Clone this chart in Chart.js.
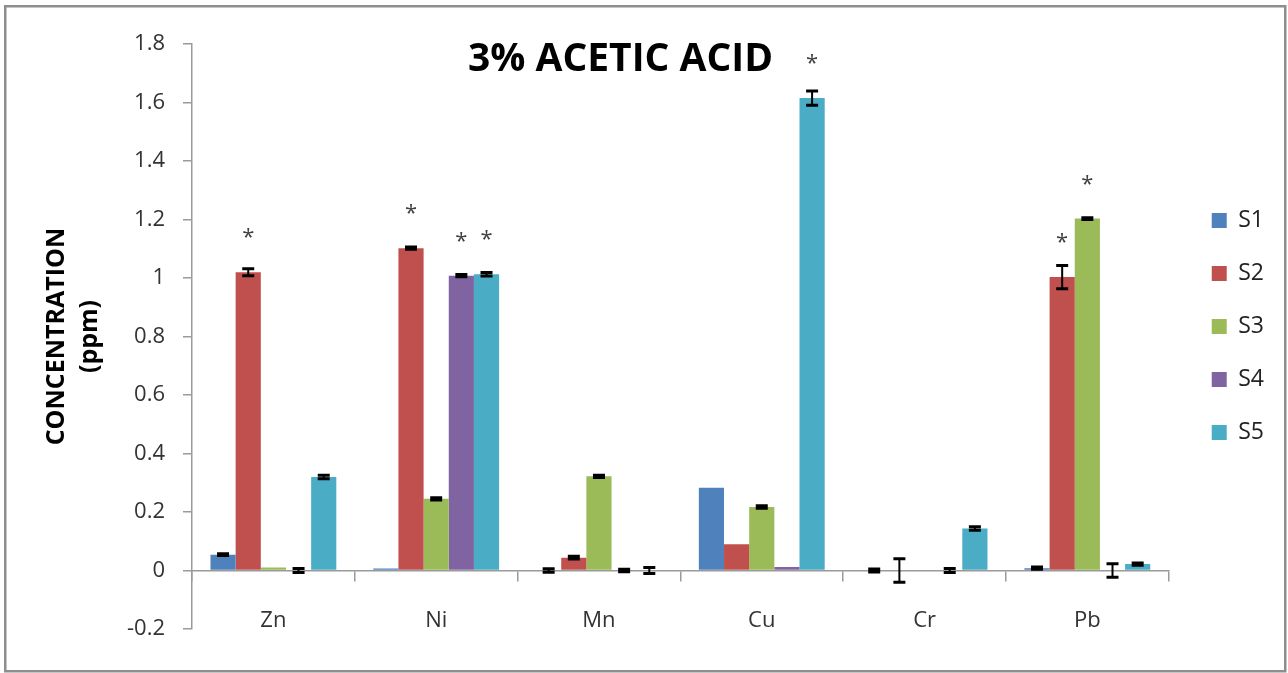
<!DOCTYPE html>
<html>
<head>
<meta charset="utf-8">
<title>3% ACETIC ACID</title>
<script src="https://cdn.jsdelivr.net/npm/chart.js@4.4.1/dist/chart.umd.min.js"></script>
<style>
  html, body { margin: 0; padding: 0; background: #ffffff; }
  #wrap { width: 1288px; height: 673px; position: relative; }
</style>
</head>
<body>
<div id="wrap"><canvas id="chart"></canvas></div>
<script>
// Metals measured and the five samples
const metals = ['Zn', 'Ni', 'Mn', 'Cu', 'Cr', 'Pb'];
const sampleNames = ['S1', 'S2', 'S3', 'S4', 'S5'];

// Mean concentration (ppm) per metal, one array per sample
const s1Values = [0.054, 0.007, 0.000, 0.283, 0.000, 0.008];
const s2Values = [1.020, 1.102, 0.044, 0.090, 0.000, 1.003];
const s3Values = [0.010, 0.245, 0.322, 0.217, 0.000, 1.203];
const s4Values = [0.000, 1.008, 0.000, 0.012, 0.000, 0.000];
const s5Values = [0.320, 1.013, 0.000, 1.615, 0.144, 0.022];

// Standard deviation (ppm) per metal
const s1Errors = [0.003, 0.000, 0.006, 0.000, 0.005, 0.004];
const s2Errors = [0.012, 0.004, 0.005, 0.000, 0.040, 0.040];
const s3Errors = [0.000, 0.004, 0.004, 0.004, 0.000, 0.003];
const s4Errors = [0.007, 0.004, 0.004, 0.000, 0.007, 0.023];
const s5Errors = [0.006, 0.006, 0.010, 0.024, 0.006, 0.004];

// Statistically significant results, marked with an asterisk
const s1Marked = [false, false, false, false, false, false];
const s2Marked = [true,  true,  false, false, false, true ];
const s3Marked = [false, false, false, false, false, true ];
const s4Marked = [false, true,  false, false, false, false];
const s5Marked = [false, true,  false, true,  false, false];

// Value axis ticks
const yMin = -0.2;
const yMax = 1.8;
const yStep = 0.2;

const sampleColors = ['#4F81BD', '#C0504D', '#9BBB59', '#8064A2', '#4BACC6'];
const allValues = [s1Values, s2Values, s3Values, s4Values, s5Values];
const allErrors = [s1Errors, s2Errors, s3Errors, s4Errors, s5Errors];
const allMarked = [s1Marked, s2Marked, s3Marked, s4Marked, s5Marked];

const FONT = "'Open Sans', 'DejaVu Sans', sans-serif";
const AXIS_GRAY = '#9a9a9a';

const datasets = sampleNames.map((name, i) => ({
  label: name,
  data: allValues[i],
  errors: allErrors[i],
  marked: allMarked[i],
  backgroundColor: sampleColors[i],
  borderWidth: 0,
  barPercentage: 1.0,
  categoryPercentage: 0.773
}));

// White page and grey outer frame
const framePlugin = {
  id: 'frame',
  beforeDraw(chart) {
    const { ctx, width, height } = chart;
    ctx.save();
    ctx.fillStyle = '#ffffff';
    ctx.fillRect(0, 0, width, height);
    ctx.restore();
  },
  afterDraw(chart) {
    const { ctx } = chart;
    ctx.save();
    ctx.strokeStyle = '#8e8e8e';
    ctx.lineWidth = 2.5;
    ctx.strokeRect(5.25, 6.25, 1280, 665);
    ctx.restore();
  }
};

// Move the legend column next to the plot
const legendPlacePlugin = {
  id: 'legendPlace',
  afterLayout(chart) {
    const lg = chart.legend;
    if (!lg) return;
    lg.left += 13; lg.right += 13;
    lg.top -= 10; lg.bottom -= 10;
  }
};

// Error bars (mean ± SD)
const errorBarPlugin = {
  id: 'errorBars',
  afterDatasetsDraw(chart) {
    const { ctx } = chart;
    const y = chart.scales.y;
    ctx.save();
    ctx.strokeStyle = '#000000';
    chart.data.datasets.forEach((ds, i) => {
      const meta = chart.getDatasetMeta(i);
      meta.data.forEach((bar, j) => {
        const err = ds.errors[j];
        if (!err) return;
        const v = ds.data[j];
        const yHi = y.getPixelForValue(v + err);
        const yLo = y.getPixelForValue(v - err);
        const half = 6;
        ctx.lineWidth = 2;
        ctx.beginPath();
        ctx.moveTo(bar.x, yHi);
        ctx.lineTo(bar.x, yLo);
        ctx.stroke();
        ctx.lineWidth = 3;
        ctx.beginPath();
        ctx.moveTo(bar.x - half, yHi);
        ctx.lineTo(bar.x + half, yHi);
        ctx.moveTo(bar.x - half, yLo);
        ctx.lineTo(bar.x + half, yLo);
        ctx.stroke();
      });
    });
    ctx.restore();
  }
};

// Asterisks above significant bars
const markPlugin = {
  id: 'marks',
  afterDatasetsDraw(chart) {
    const { ctx } = chart;
    const y = chart.scales.y;
    ctx.save();
    ctx.fillStyle = '#404040';
    ctx.font = '22px ' + FONT;
    ctx.textAlign = 'center';
    ctx.textBaseline = 'middle';
    chart.data.datasets.forEach((ds, i) => {
      const meta = chart.getDatasetMeta(i);
      meta.data.forEach((bar, j) => {
        if (!ds.marked[j]) return;
        const top = y.getPixelForValue(ds.data[j]);
        ctx.fillText('*', bar.x, top - 34);
      });
    });
    ctx.restore();
  }
};

// Chart heading inside the plot
const headingPlugin = {
  id: 'heading',
  afterDraw(chart) {
    const { ctx } = chart;
    ctx.save();
    ctx.fillStyle = '#000000';
    ctx.font = 'bold 39px ' + FONT;
    ctx.textAlign = 'center';
    ctx.textBaseline = 'alphabetic';
    ctx.fillText('3% ACETIC ACID', 620.5, 71);
    ctx.restore();
  }
};

new Chart(document.getElementById('chart'), {
  type: 'bar',
  data: { labels: metals, datasets },
  plugins: [framePlugin, legendPlacePlugin, errorBarPlugin, markPlugin, headingPlugin],
  options: {
    responsive: true,
    maintainAspectRatio: false,
    animation: false,
    layout: { padding: { top: 44, bottom: 44, left: 0, right: 27 } },
    plugins: {
      title: { display: false },
      tooltip: { enabled: false },
      legend: {
        position: 'right',
        align: 'center',
        labels: {
          boxWidth: 15,
          boxHeight: 15,
          padding: 30,
          color: '#222222',
          font: { family: FONT, size: 23 }
        }
      }
    },
    scales: {
      x: {
        position: { y: 0 },
        grid: {
          offset: true,
          drawOnChartArea: false,
          drawTicks: true,
          tickLength: 10,
          color: AXIS_GRAY,
          lineWidth: 1.5
        },
        border: { color: AXIS_GRAY, width: 1.5 },
        ticks: {
          padding: 27,
          color: '#333333',
          font: { family: FONT, size: 22 }
        }
      },
      y: {
        min: yMin,
        max: yMax,
        afterFit(scale) { scale.width = 192; },
        ticks: {
          stepSize: yStep,
          padding: 18,
          color: '#333333',
          font: { family: FONT, size: 22 },
          callback: (v) => String(Number(Number(v).toFixed(1)))
        },
        grid: {
          drawOnChartArea: false,
          drawTicks: true,
          tickLength: 9,
          color: AXIS_GRAY,
          lineWidth: 1.5
        },
        border: { color: AXIS_GRAY, width: 1.5 },
        title: {
          display: true,
          text: ['CONCENTRATION', '(ppm)'],
          color: '#000000',
          font: { family: FONT, size: 25, weight: 'bold', lineHeight: 1.3 },
          padding: { top: 41, bottom: 0 }
        }
      }
    }
  }
});
</script>
</body>
</html>
